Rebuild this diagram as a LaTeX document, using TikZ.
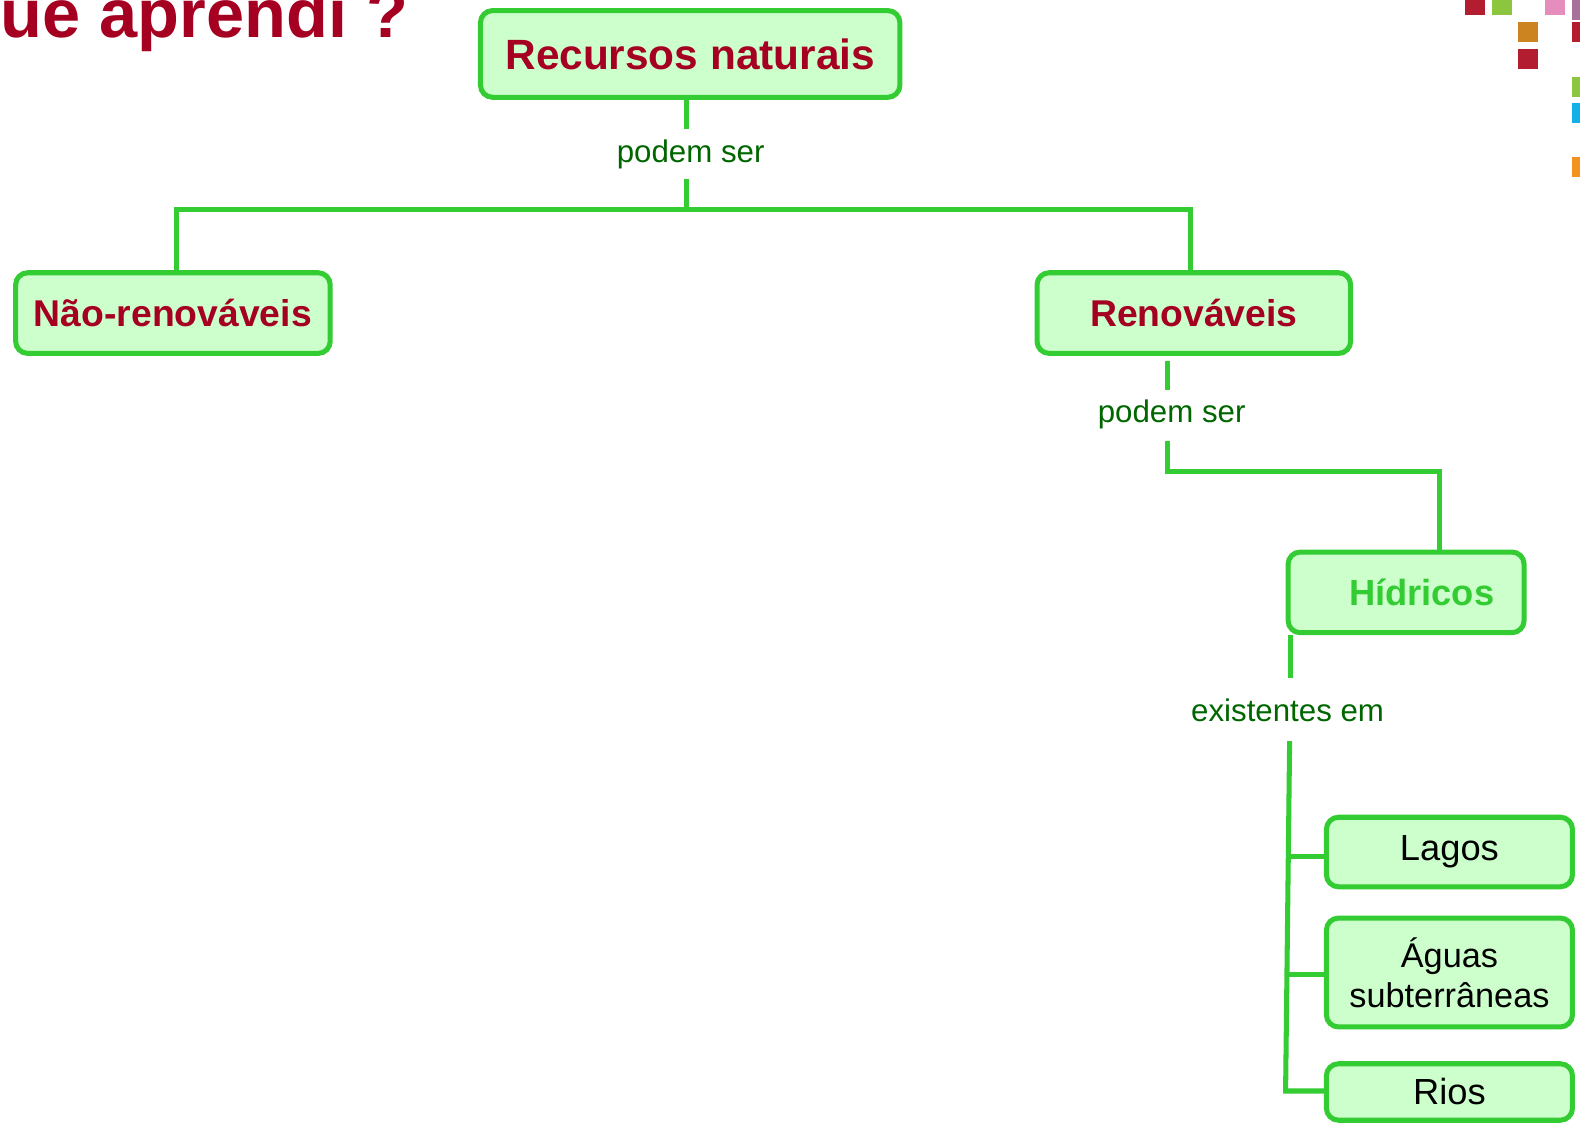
\documentclass[tikz,border=0pt]{standalone}
\usepackage{fontspec}
\setmainfont{Liberation Sans}
\definecolor{dred}{HTML}{A50021}
\definecolor{lgreen}{HTML}{33CC33}
\definecolor{fgreen}{HTML}{CCFFCC}
\definecolor{tgreen}{HTML}{006600}
\definecolor{sqred}{HTML}{B21E2F}
\definecolor{sqgreen}{HTML}{8CC63E}
\definecolor{sqpink}{HTML}{E58EBE}
\definecolor{sqmauve}{HTML}{A7729A}
\definecolor{sqorange}{HTML}{CC8420}
\definecolor{sqcyan}{HTML}{13B0E6}
\definecolor{sqorangeb}{HTML}{F29221}
\tikzset{
  box/.style={draw=lgreen, fill=fgreen, line width=2.5pt, rounded corners=6pt, inner sep=0pt, align=center},
  bigtxt/.style={text=dred, font=\fontsize{21pt}{25pt}\selectfont\bfseries},
  midtxt/.style={text=dred, font=\fontsize{18.5pt}{22pt}\selectfont\bfseries},
  leaftxt/.style={text=black, font=\fontsize{18pt}{20pt}\selectfont},
  conn/.style={draw=lgreen, line width=2.5pt},
  linklabel/.style={text=tgreen, font=\fontsize{15.5pt}{18pt}\selectfont, inner sep=0pt},
  sq/.style={inner sep=0pt, outer sep=0pt, minimum width=10pt, minimum height=10pt, draw=none, anchor=north west},
  sqtop/.style={sq, minimum height=7.5pt},
  sqside/.style={sq, minimum width=4pt}
}
\begin{document}
\begin{tikzpicture}[x=0.5pt,y=-0.5pt]
\useasboundingbox (0,0) rectangle (1567,1117);
\begin{scope}
\clip (0,0) rectangle (1567,1117);
\fill[white] (0,0) rectangle (1567,1117);

% title
\node[anchor=base west, inner sep=0pt, text=dred, font=\fontsize{34pt}{40pt}\selectfont\bfseries] (title) at (0,37) {ue aprendi ?};

% decorative squares
\node[sqtop, fill=sqred] (s1) at (1453,0) {};
\node[sqtop, fill=sqgreen] (s2) at (1480,0) {};
\node[sqtop, fill=sqpink] (s3) at (1532,0) {};
\node[sqtop, sqside, fill=sqmauve] (s4) at (1559,0) {};
\node[sq, fill=sqorange] (s5) at (1505.5,21.8) {};
\node[sq, fill=sqred] (s6) at (1505.5,48.6) {};
\node[sqside, fill=sqred] (s7) at (1559,21.8) {};
\node[sqside, fill=sqgreen] (s8) at (1559,76.4) {};
\node[sqside, fill=sqcyan] (s9) at (1559,102.2) {};
\node[sqside, fill=sqorangeb] (s10) at (1559,155.7) {};

% boxes
\node[box, bigtxt, minimum width=208pt, minimum height=43pt] (rec) at (684.5,53.5) {Recursos naturais};
\node[box, midtxt, minimum width=156pt, minimum height=40pt] (non) at (171.5,310.5) {Não-renováveis};
\node[box, midtxt, minimum width=155.5pt, minimum height=40pt] (ren) at (1184,310.5) {Renováveis};
\node[box, text=lgreen, font=\fontsize{18pt}{22pt}\selectfont\bfseries, minimum width=117pt, minimum height=40pt] (hid) at (1394.5,587.5) {\hspace*{15.5pt}Hídricos};
\node[box, leaftxt, minimum width=122pt, minimum height=34.5pt] (lag) at (1437.5,845) {Lagos};
\node[box, leaftxt, font=\fontsize{17pt}{20pt}\selectfont, minimum width=122pt, minimum height=54pt] (agu) at (1437.5,964.5) {Águas\\subterrâneas};
\node[box, leaftxt, minimum width=122pt, minimum height=28pt] (rio) at (1437.5,1083) {Rios};

% labels
\node[linklabel] (l1) at (685,153) {podem ser};
\node[linklabel] (l2) at (1162,411) {podem ser};
\node[linklabel] (l3) at (1277,704) {existentes em};

% connectors level 1
\coordinate (j1) at (681,208);
\coordinate (j1l) at (175,208);
\coordinate (j1r) at (1181,208);
\draw[conn] (rec.south -| j1) -- ++(0,29);
\draw[conn] (j1) -- ++(0,-30);
\draw[conn] (j1l |- non.north) -- (j1l) -- (j1r) -- (j1r |- ren.north);

% connectors level 2
\coordinate (k1) at (1158,468);
\coordinate (k2) at (1428,468);
\draw[conn] (k1 |- ren.south) ++(0,5) -- ++(0,29);
\draw[conn] (k1) ++(0,-31) -- (k1) -- (k2) -- (k2 |- hid.north);

% connectors level 3
\coordinate (m0) at (1280,630);
\coordinate (m1) at (1279,735);
\coordinate (m2) at (1275,1082);
\draw[conn] (m0) -- ++(0,42);
\draw[conn] (m1) -- (m2) -- (m2 -| rio.west);
\coordinate (b1) at (1277.4,849);
\coordinate (b2) at (1276.6,966);
\draw[conn] (b1) -- (b1 -| lag.west);
\draw[conn] (b2) -- (b2 -| agu.west);
\end{scope}
\end{tikzpicture}
\end{document}
